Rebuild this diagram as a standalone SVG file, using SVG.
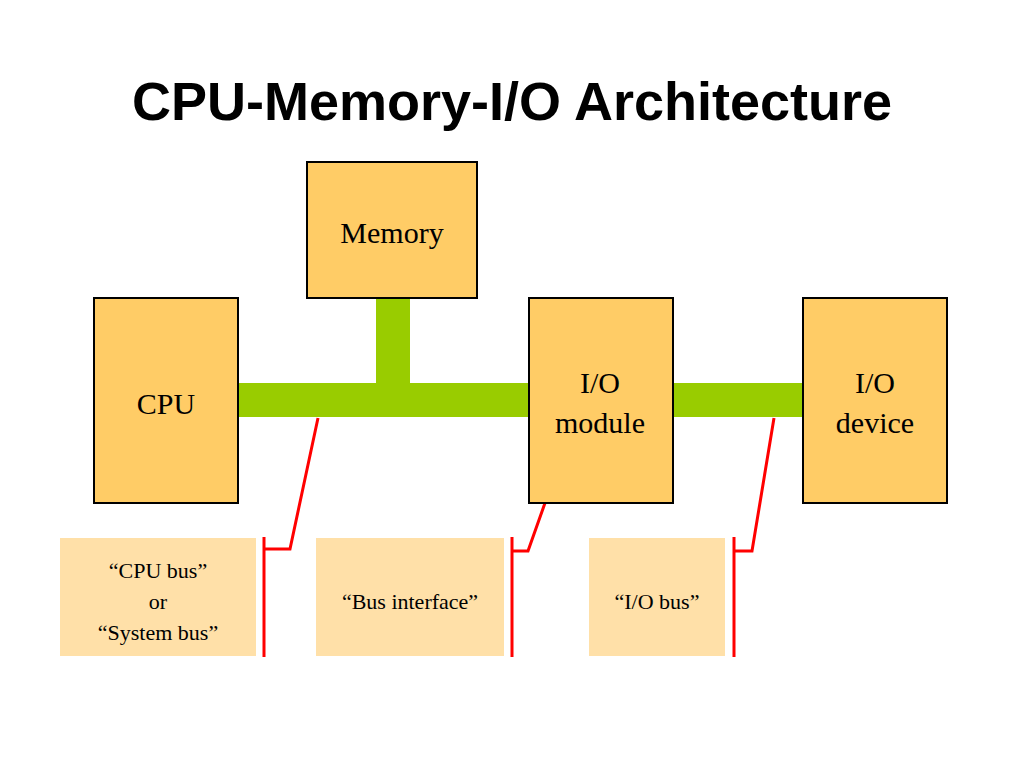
<svg xmlns="http://www.w3.org/2000/svg" width="1024" height="768" viewBox="0 0 1024 768">
<style>
.box{fill:#FFCC66;stroke:#000;stroke-width:2}
.call{fill:#FFE0A8}
.bus{fill:#99CC00}
.red{fill:none;stroke:#FF0000;stroke-width:3}
.t{font-family:"Liberation Serif",serif;font-size:30px;text-anchor:middle;fill:#000}
.s{font-family:"Liberation Serif",serif;font-size:22px;text-anchor:middle;fill:#000}
</style>
<rect width="1024" height="768" fill="#fff"/>
<text x="512" y="120" font-family="Liberation Sans,Arial,sans-serif" font-weight="bold" font-size="54" text-anchor="middle">CPU-Memory-I/O Architecture</text>
<g id="connectors">
<rect class="bus" x="238" y="383" width="291" height="34"/>
<rect class="bus" x="376" y="298" width="34" height="86"/>
<rect class="bus" x="673" y="383" width="130" height="34"/>
<path class="red" d="M264 537V657M264 549H290L318 418"/>
<path class="red" d="M512 537V657M512 551H528L545 503"/>
<path class="red" d="M734 537V657M734 551H752L774 418"/>
</g>
<g id="memory"><rect class="box" x="307" y="162" width="170" height="136"/><text class="t" x="392" y="243">Memory</text></g>
<g id="cpu"><rect class="box" x="94" y="298" width="144" height="205"/><text class="t" x="166" y="414">CPU</text></g>
<g id="iomodule"><rect class="box" x="529" y="298" width="144" height="205"/><text class="t" x="600" y="393">I/O</text><text class="t" x="600" y="433">module</text></g>
<g id="iodevice"><rect class="box" x="803" y="298" width="144" height="205"/><text class="t" x="875" y="393">I/O</text><text class="t" x="875" y="433">device</text></g>
<g id="cpubus"><rect class="call" x="60" y="538" width="196" height="118"/><text class="s" x="158" y="578">“CPU bus”</text><text class="s" x="158" y="609">or</text><text class="s" x="158" y="640">“System bus”</text></g>
<g id="businterface"><rect class="call" x="316" y="538" width="188" height="118"/><text class="s" x="410" y="609">“Bus interface”</text></g>
<g id="iobus"><rect class="call" x="589" y="538" width="136" height="118"/><text class="s" x="657" y="609">“I/O bus”</text></g>
</svg>
